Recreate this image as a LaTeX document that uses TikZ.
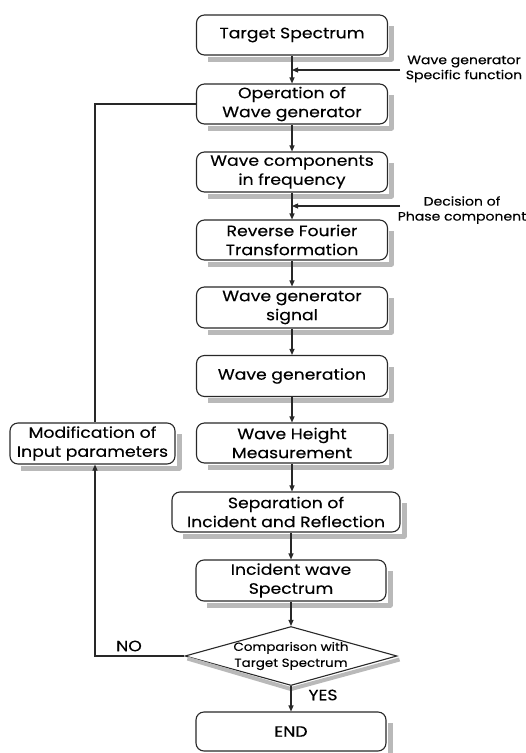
\documentclass[tikz,border=0pt]{standalone}
\usepackage{fontspec}
\setmainfont{Poppins}[FakeStretch=1.15,FakeBold=0.25]
\usetikzlibrary{arrows.meta,shapes.geometric}
\definecolor{shadowgray}{RGB}{185,185,185}
\definecolor{linegray}{RGB}{40,40,40}
% shadow strip outside the right and bottom edges of a named box
\newcommand\boxshadow[1]{%
  \draw[shstroke] ([xshift=12pt,yshift=-3.5pt]#1.south west) -- ([xshift=3.5pt,yshift=-3.5pt]#1.south east) -- ([xshift=3.5pt,yshift=-12pt]#1.north east);}
\begin{document}
\begin{tikzpicture}[x=1pt,y=-1pt,
  box/.style={draw=linegray, line width=1.1pt, rounded corners=8pt, fill=white, align=center,
    inner sep=0pt, font=\fontsize{15}{19}\selectfont},
  shstroke/.style={draw=shadowgray, line width=5pt, line join=round},
  arr/.style={draw=linegray, line width=1.1pt, -{Triangle[length=6pt,width=5pt]}},
  ln/.style={draw=linegray, line width=1.1pt},
  side/.style={font=\fontsize{12.2}{15}\selectfont, align=center, inner sep=0pt},
  lab/.style={font=\fontsize{15}{17}\selectfont, inner sep=0pt},
]
\useasboundingbox (0,0) rectangle (526,753);

\node[box, minimum width=191pt, minimum height=40pt] (ts) at (292,35) {Target Spectrum};
\node[box, minimum width=191pt, minimum height=40pt] (op) at (292,104) {Operation of\\Wave generator};
\node[box, minimum width=191pt, minimum height=40pt] (wc) at (292,172) {Wave components\\in frequency};
\node[box, minimum width=191pt, minimum height=40pt] (rf) at (292,240) {Reverse Fourier\\Transformation};
\node[box, minimum width=191pt, minimum height=41pt] (ws) at (292,307.5) {Wave generator\\signal};
\node[box, minimum width=191pt, minimum height=41pt] (wg) at (292,376) {Wave generation};
\node[box, minimum width=191pt, minimum height=40pt] (wh) at (292,443) {Wave Height\\Measurement};
\node[box, minimum width=228pt, minimum height=40pt] (sep) at (286,512) {Separation of\\Incident and Reflection};
\node[box, minimum width=190pt, minimum height=41pt] (iw) at (291,580.5) {Incident wave\\Spectrum};
\node[box, minimum width=190pt, minimum height=39pt] (end) at (291,731.5) {END};
\node[box, minimum width=165pt, minimum height=41pt] (mod) at (92.5,443.5) {Modification of\\Input parameters};

\node[draw=linegray, line width=1.1pt, diamond, minimum width=212pt, minimum height=59pt,
  inner sep=0pt, fill=white] (dia) at (291,656) {};
\node[align=center, inner sep=0pt, font=\fontsize{11.7}{16}\selectfont] (diat) at (dia.center) {Comparison with\\Target Spectrum};

% shadows
\foreach \n in {ts,op,wc,rf,ws,wg,wh,sep,iw,end,mod}{\boxshadow{\n}}
\draw[shstroke, line width=4pt] ([shift={(3pt,-2.5pt)}]dia.west) -- ([shift={(0pt,-3pt)}]dia.south) -- ([shift={(2pt,-3.5pt)}]dia.east);

\draw[arr] (ts) -- (op);
\draw[arr] (op) -- (wc);
\draw[arr] (wc) -- (rf);
\draw[arr] (rf) -- (ws);
\draw[arr] (ws) -- (wg);
\draw[arr] (wg) -- (wh);
\draw[arr] (wh.south) -- (wh.south |- sep.north);
\draw[arr] (iw.north |- sep.south) -- (iw.north);
\draw[arr] (iw.south) -- (dia.north);
\draw[arr] (dia.south) -- (end.north);

\coordinate (s1) at (400,70);
\coordinate (s2) at (400,206);
\draw[arr] (s1) -- (s1 -| ts.south);
\draw[arr] (s2) -- (s2 -| wc.south);
\node[side] (t1) at (464,69) {Wave generator\\Specific function};
\node[side] (t2) at (462,210) {Decision of\\Phase component};

\draw[arr] (dia.west) -| ([xshift=2.5pt]mod.south);
\draw[ln] ([xshift=2.5pt]mod.north) |- (op.west);

\node[lab] (no) at (129,646) {NO};
\node[lab] (yes) at (323,695) {YES};
\end{tikzpicture}
\end{document}
